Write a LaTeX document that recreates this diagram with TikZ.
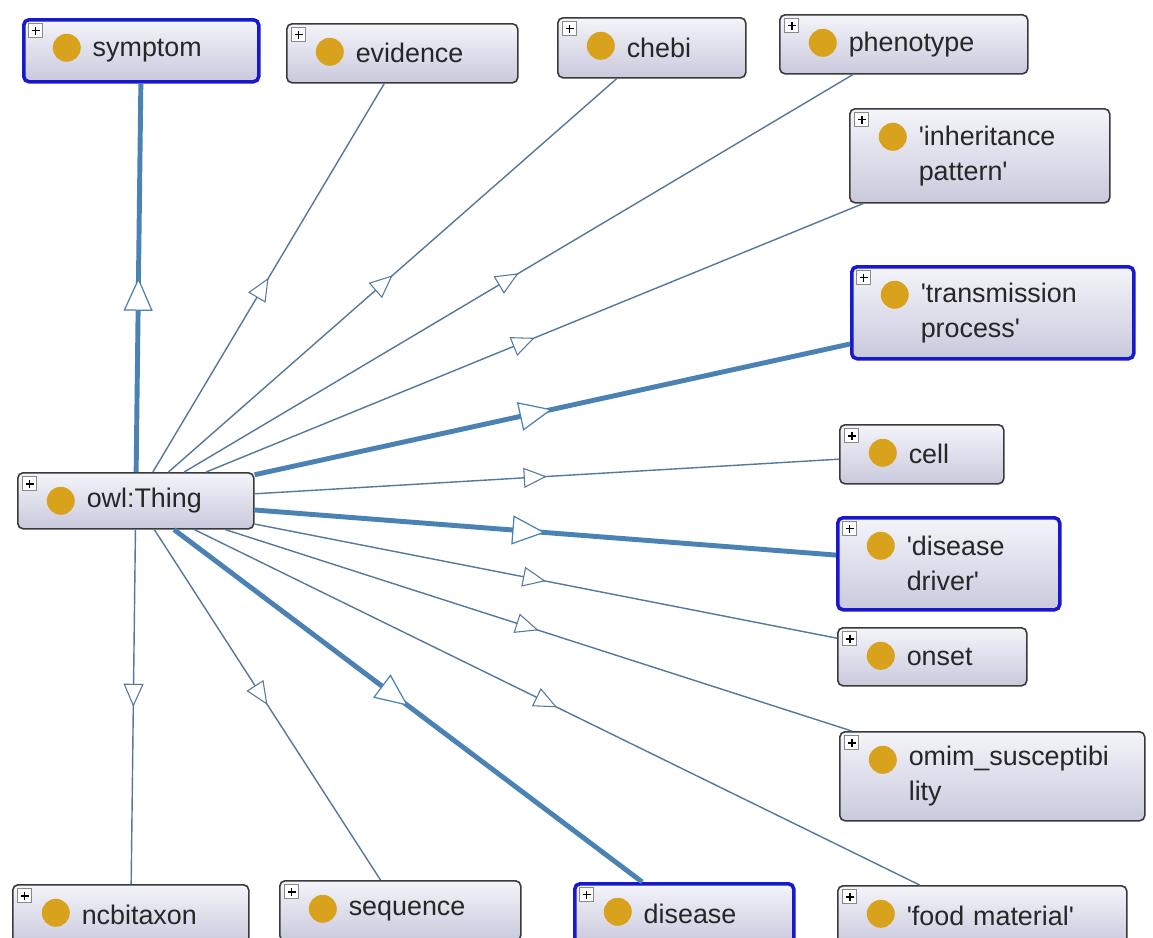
\documentclass[tikz,border=0pt]{standalone}
\usepackage{fontspec}
\setsansfont{Liberation Sans}[Ligatures=TeXOff]
\definecolor{Frame}{HTML}{3A3A3A}
\definecolor{Pick}{HTML}{1818D0}
\definecolor{BoxTop}{HTML}{F4F4FA}
\definecolor{BoxBot}{HTML}{C9C9DD}
\definecolor{Dot}{HTML}{D8A21C}
\definecolor{Edge}{HTML}{56789A}
\definecolor{Heavy}{HTML}{4A82B4}
\definecolor{Ink}{HTML}{262626}
\usetikzlibrary{arrows.meta,decorations.markings}

\begin{document}
\begin{tikzpicture}[
  x=0.02cm, y=-0.02cm,
  cls/.style n args={2}{draw=Frame, line width=0.9pt, rounded corners=3pt,
    top color=BoxTop, bottom color=BoxBot, anchor=north west,
    inner sep=0pt, minimum width={#1*0.02cm}, minimum height={#2*0.02cm},
    text width={#1*0.02cm}, align=left, text=Ink,
    font=\sffamily\fontsize{15.3}{19.8}\selectfont,
    execute at begin node={\leftskip=1.38cm},
    path picture={
      \fill[Dot] ([shift={(43,28)}]path picture bounding box.north west) circle (0.28cm);
      \draw[sharp corners, draw=Frame!60, fill=white, line width=0.5pt]
        ([shift={(5,4)}]path picture bounding box.north west) rectangle ++(14,14);
      \draw[sharp corners, draw=black, line width=0.8pt]
        ([shift={(8,11)}]path picture bounding box.north west) -- ++(8,0)
        ([shift={(12,7)}]path picture bounding box.north west) -- ++(0,8);
    }},
  pick/.style={draw=Pick, line width=2pt},
  link/.style={draw=Edge, line width=0.8pt, postaction={decorate}},
  isa/.style={link, decoration={markings, mark=at position 0.5 with
    {\arrow{Triangle[length=0.46cm, width=0.4cm, fill=white, line width=0.6pt]}}}},
  isab/.style={link, draw=Heavy, line width=2.8pt, decoration={markings, mark=at position 0.5 with
    {\arrow{Triangle[length=0.66cm, width=0.58cm, fill=white, line width=0.7pt]}}}}
]
\useasboundingbox (0,0) rectangle (1153,937);
\fill[white] (0,0) rectangle (1153,937);
\clip (0,0) rectangle (1153,937);

% classes
\node[cls={236}{56}] (thing) at (17,472) {owl:Thing};
\node[cls={235}{62},pick] (symptom) at (22,18) {symptom};
\node[cls={231}{59}] (evidence) at (286,23) {evidence};
\node[cls={188}{60}] (chebi) at (557,17) {chebi};
\node[cls={248}{59}] (phenotype) at (779,14) {phenotype};
\node[cls={260}{94}] (inherit) at (849,108) {'inheritance\\pattern'};
\node[cls={282}{92},pick] (transmit) at (850,265) {'transmission\\process'};
\node[cls={164}{59}] (cell) at (839,424) {cell};
\node[cls={222}{92},pick] (driver) at (836,516) {'disease\\driver'};
\node[cls={189}{58}] (onset) at (837,627) {onset};
\node[cls={305}{89}] (omim) at (839,731) {omim\_susceptibi\\lity};
\node[cls={289}{60}] (food) at (837,885) {'food material'};
\node[cls={219}{60},pick] (disease) at (573,882) {disease};
\node[cls={241}{60}] (sequence) at (279,880) {sequence};
\node[cls={236}{60}] (ncbitaxon) at (12,884) {ncbitaxon};

% subclass links
\draw[isab] (thing)--(symptom);
\draw[isa] (thing)--(evidence);
\draw[isa] (thing)--(chebi);
\draw[isa] (thing)--(phenotype);
\draw[isa] (thing)--(inherit);
\draw[isab] (thing)--(transmit);
\draw[isa] (thing)--(cell);
\draw[isab] (thing)--(driver);
\draw[isa] (thing)--(onset);
\draw[isa] (thing)--(omim);
\draw[isa] (thing)--(food);
\draw[isab] (thing)--(disease);
\draw[isa] (thing)--(sequence);
\draw[isa] (thing)--(ncbitaxon);
\end{tikzpicture}
\end{document}
